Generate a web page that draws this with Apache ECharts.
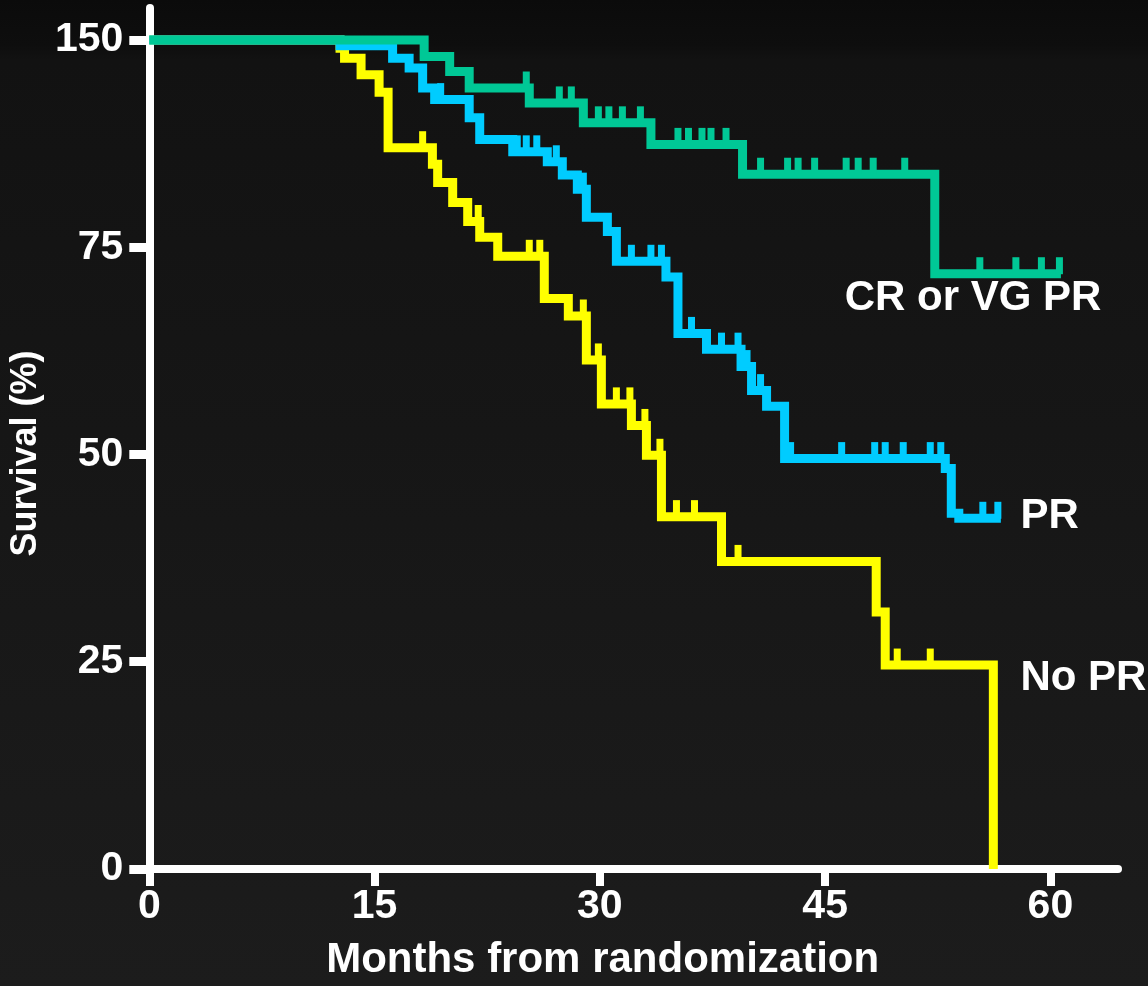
<!DOCTYPE html>
<html>
<head>
<meta charset="utf-8">
<script src="https://cdn.jsdelivr.net/npm/echarts@6/dist/echarts.min.js"></script>
<style>
  html, body { margin: 0; padding: 0; width: 1148px; height: 986px; overflow: hidden;
    background: linear-gradient(to bottom, #0b0b0b 0px, #0e0e0e 45px, #121212 60px, #1c1c1c 986px); }
  #chart { width: 1148px; height: 986px; }
</style>
</head>
<body>
<div id="chart"></div>
<script>
// ---- data (months, survival %) ----
const xTickValues = [0, 15, 30, 45, 60];
const xTickLabels = ['0', '15', '30', '45', '60'];
const yTickValues = [0, 25, 50, 75, 100];
const yTickLabels = ['0', '25', '50', '75', '150'];

const seriesNames = ['CR or VG PR', 'PR', 'No PR'];

const crSteps = [[0,100],[18.3,98.0],[20.0,96.2],[21.3,94.2],[25.3,92.4],[28.9,90.0],[33.4,87.4],[39.5,83.8],[52.3,71.8],[60.7,71.8]];
const crCensored = [[25.1,94.2],[27.3,92.4],[28.1,92.4],[29.9,90],[30.6,90],[31.5,90],[32.7,90],[35.2,87.4],[35.9,87.4],[36.8,87.4],[37.4,87.4],[38.4,87.4],[40.7,83.8],[42.5,83.8],[43.2,83.8],[44.3,83.8],[46.4,83.8],[47.2,83.8],[48.2,83.8],[50.3,83.8],[55.3,71.8],[57.7,71.8],[59.4,71.8],[60.6,71.8]];

const prSteps = [[0,100],[12.7,99.3],[16.2,97.8],[17.3,96.6],[18.2,94.2],[19.0,92.8],[21.3,90.6],[22.0,88.0],[24.2,86.5],[26.5,85.3],[27.5,83.7],[28.5,82.0],[29.1,78.6],[30.5,76.9],[31.1,73.3],[34.4,71.4],[35.2,64.6],[37.1,62.7],[39.4,60.6],[40.1,57.7],[41.1,55.8],[42.3,49.5],[53.0,48.3],[53.4,42.9],[53.9,42.3],[56.7,42.3]];
const prCensored = [[19.4,92.8],[24.5,86.5],[25.1,86.5],[25.8,86.5],[27.1,85.3],[28.9,82.0],[32.1,73.3],[33.4,73.3],[34.1,73.3],[36.1,64.6],[38.1,62.7],[39.2,62.7],[39.8,60.6],[40.7,57.7],[42.7,49.5],[46.1,49.5],[48.3,49.5],[49.0,49.5],[50.2,49.5],[52.0,49.5],[52.7,49.5],[55.5,42.3],[56.5,42.3]];

const noprSteps = [[0,100],[12.7,99.0],[13.0,97.8],[14.1,95.8],[15.3,93.7],[15.9,87.0],[18.85,85.0],[19.2,82.8],[20.2,80.4],[21.2,78.1],[22.0,76.2],[23.2,73.9],[26.3,68.8],[27.9,66.7],[29.1,61.4],[30.1,56.1],[32.1,53.5],[33.1,49.9],[34.1,42.5],[38.1,37.1],[48.4,31.0],[49.0,24.6],[56.2,0]];
const noprCensored = [[18.2,87.0],[21.9,78.1],[25.3,73.9],[26.0,73.9],[28.9,66.7],[29.9,61.4],[31.1,56.1],[32.0,56.1],[33.0,53.5],[34.0,49.9],[35.1,42.5],[36.3,42.5],[39.2,37.1],[49.8,24.6],[52.0,24.6]];

// label anchors (month, survival) for the curve names
const labelAnchors = [[46.3, 68.8], [58.0, 42.5], [58.0, 23.0]];

// ---- styling ----
const colors = ['#00c896', '#00ccff', '#ffff00'];
const FONT = '"Liberation Sans", Arial, sans-serif';
const LINE_W = 9;

const chart = echarts.init(document.getElementById('chart'), null, { renderer: 'canvas' });

function stepSeries(name, data, color, z) {
  return {
    name: name, type: 'line', step: 'end', data: data, showSymbol: false, symbol: 'none',
    lineStyle: { color: color, width: LINE_W, cap: 'butt', join: 'miter', opacity: 1 },
    z: z, silent: true, animation: false
  };
}
function censorSeries(name, data, color, z) {
  return {
    name: name + ' censored', type: 'scatter', data: data,
    symbol: 'rect', symbolSize: [7, 17], symbolOffset: [0, -8],
    itemStyle: { color: color, opacity: 1 }, z: z, silent: true, animation: false
  };
}

const series = [
  stepSeries(seriesNames[2], noprSteps, colors[2], 2),
  censorSeries(seriesNames[2], noprCensored, colors[2], 2),
  stepSeries(seriesNames[1], prSteps, colors[1], 3),
  censorSeries(seriesNames[1], prCensored, colors[1], 3),
  stepSeries(seriesNames[0], crSteps, colors[0], 4),
  censorSeries(seriesNames[0], crCensored, colors[0], 4),
  {
    type: 'scatter', symbolSize: 0, silent: true, animation: false, z: 5,
    itemStyle: { opacity: 1 },
    data: labelAnchors.map((p, i) => ({ value: p, name: seriesNames[i] })),
    label: {
      show: true, position: 'right', distance: 0, formatter: '{b}', opacity: 1,
      color: '#ffffff', fontFamily: FONT, fontWeight: 'bold', fontSize: 42
    }
  }
];

const axisLineStyle = { color: '#ffffff', width: 8 };

chart.setOption({
  backgroundColor: 'transparent',
  animation: false,
  grid: { left: 146, top: 8, width: 972, height: 864 },
  xAxis: {
    type: 'value', min: 0, max: 64.5,
    name: 'Months from randomization', nameLocation: 'middle', nameGap: 70,
    nameTextStyle: { color: '#ffffff', fontFamily: FONT, fontWeight: 'bold', fontSize: 42, padding: [0, 62, 0, 0] },
    axisLine: { show: true, onZero: false, lineStyle: axisLineStyle },
    axisTick: { show: true, inside: false, length: 17, lineStyle: { color: '#ffffff', width: 8 }, customValues: xTickValues },
    axisLabel: { show: true, margin: 17, color: '#ffffff', fontFamily: FONT, fontWeight: 'bold', fontSize: 41,
      customValues: xTickValues,
      formatter: v => { const i = xTickValues.indexOf(v); return i >= 0 ? xTickLabels[i] : ''; } },
    splitLine: { show: false }
  },
  yAxis: {
    type: 'value', min: 0, max: 103.85,
    name: 'Survival (%)', nameLocation: 'middle', nameGap: 84, nameRotate: 90,
    nameTextStyle: { color: '#ffffff', fontFamily: FONT, fontWeight: 'bold', fontSize: 36, padding: [0, 30, 0, 0] },
    axisLine: { show: true, onZero: false, lineStyle: axisLineStyle },
    axisTick: { show: true, inside: false, length: 20, lineStyle: { color: '#ffffff', width: 9 }, customValues: yTickValues },
    axisLabel: { show: true, margin: 26, color: '#ffffff', fontFamily: FONT, fontWeight: 'bold', fontSize: 41,
      customValues: yTickValues,
      formatter: v => { const i = yTickValues.indexOf(v); return i >= 0 ? yTickLabels[i] : ''; } },
    splitLine: { show: false }
  },
  series: series
});
</script>
</body>
</html>
